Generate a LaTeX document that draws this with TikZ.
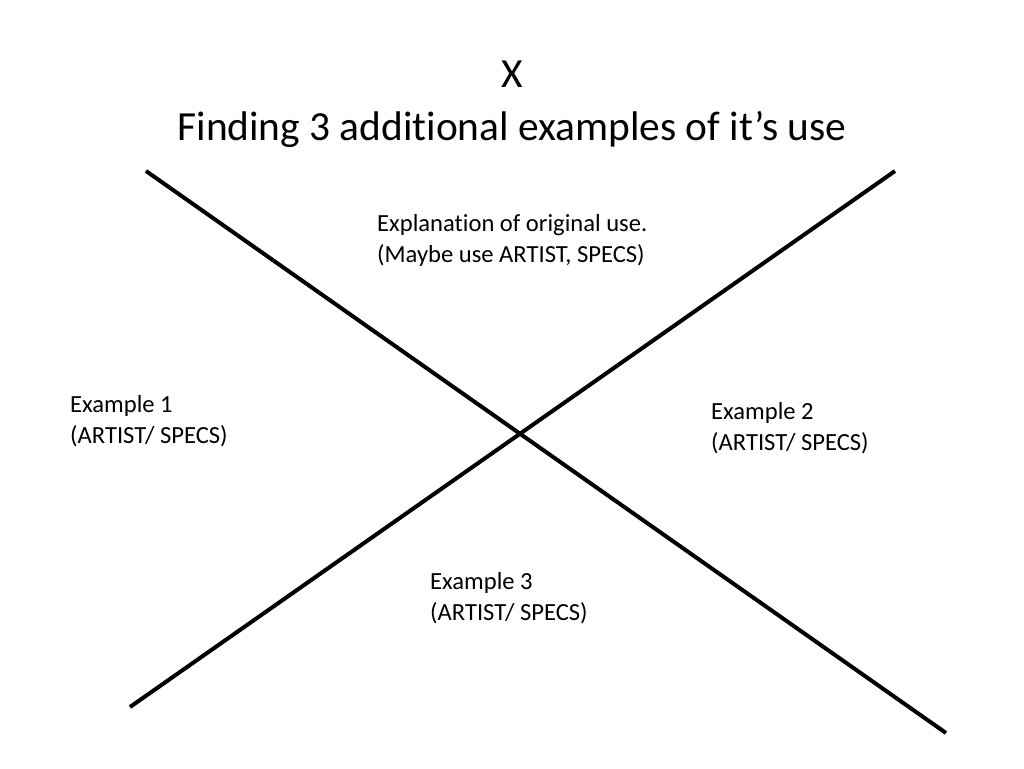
\documentclass[tikz,border=0pt]{standalone}
\usepackage{fontspec}
\setmainfont{Carlito}[Ligatures=NoCommon]
\begin{document}
\begin{tikzpicture}[x=1pt,y=-1pt,
  bar/.style={line width=4pt},
  title/.style={font=\fontsize{41.4}{50}\selectfont, inner sep=0pt},
  lbl/.style={font=\fontsize{24.6}{31}\selectfont, align=left, anchor=north west, inner sep=0pt}]
\useasboundingbox[fill=white] (0,0) rectangle (1024,768);
\coordinate (a1) at (146,171);
\coordinate (a2) at (946,733);
\coordinate (b1) at (130,707);
\coordinate (b2) at (895,171);
\draw[bar] (a1) -- (a2);
\draw[bar] (b1) -- (b2);
\node[title] (x) at (512,74) {X};
\node[title] (t) at (512,129) {Finding 3 additional examples of it’s use};
\node[lbl] (orig) at (377,214) {Explanation of original use.\\(Maybe use ARTIST, SPECS)};
\node[lbl] (e1) at (70,395) {Example 1\\(ARTIST/ SPECS)};
\node[lbl] (e2) at (711,402) {Example 2\\(ARTIST/ SPECS)};
\node[lbl] (e3) at (430,572) {Example 3\\(ARTIST/ SPECS)};
\end{tikzpicture}
\end{document}
